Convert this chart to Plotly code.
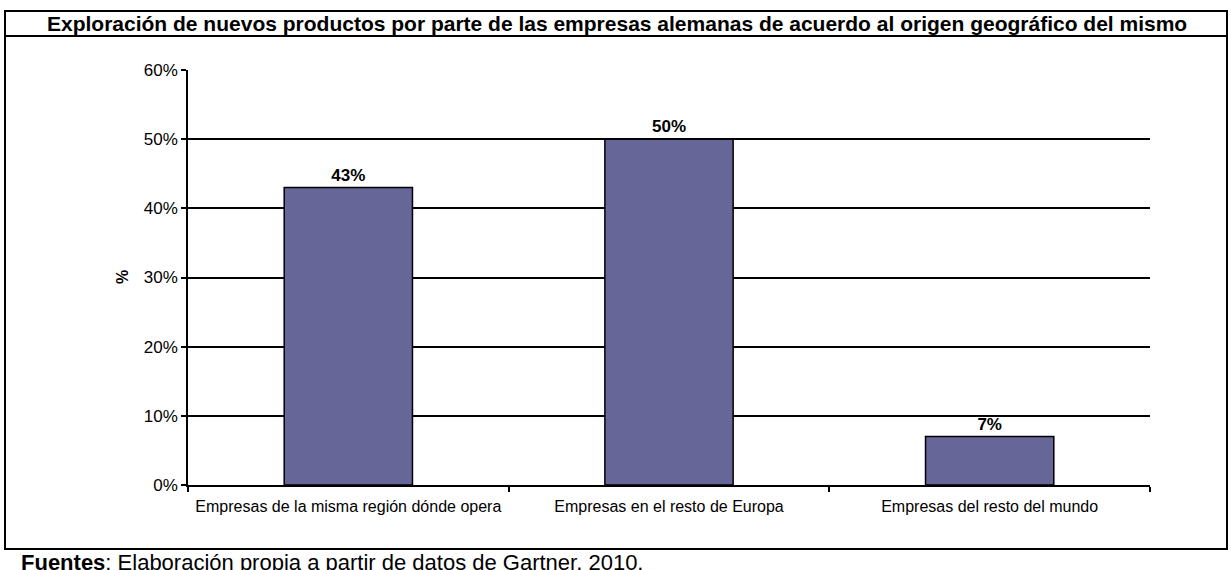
import plotly.graph_objects as go

categories = ["Empresas de la misma región dónde opera",
              "Empresas en el resto de Europa",
              "Empresas del resto del mundo"]
values = [43, 50, 7]
y_ticks = [0, 10, 20, 30, 40, 50, 60]
y_tick_labels = ["0%", "10%", "20%", "30%", "40%", "50%", "60%"]

title_text = "Exploración de nuevos productos por parte de las empresas alemanas de acuerdo al origen geográfico del mismo"
footer_text = "<b>Fuentes</b>: Elaboración propia a partir de datos de Gartner, 2010."

FONT = "Liberation Sans, Arial, sans-serif"
W, H = 1231, 570
L, R, T, B = 188, 81, 70, 85
pw, ph = W - L - R, H - T - B

def px_x(p):
    return (p - L) / pw

def px_y(p):
    return (H - B - p) / ph

fig = go.Figure()
fig.add_trace(go.Bar(
    x=categories, y=values,
    text=[f"{v}%" for v in values],
    marker=dict(color="#666699", line=dict(color="#000000", width=1.5)),
    texttemplate="<b>%{text}</b>", textposition="outside",
    textfont=dict(family=FONT, size=17, color="#000000"),
    cliponaxis=False, showlegend=False,
))

fig.update_layout(
    width=W, height=H,
    margin=dict(l=L, r=R, t=T, b=B),
    paper_bgcolor="white", plot_bgcolor="white",
    bargap=0.6,
    font=dict(family=FONT, color="#000000"),
    xaxis=dict(
        type="category", tickson="boundaries", ticks="outside", ticklen=5,
        tickcolor="black", tickwidth=1.5, ticklabelstandoff=6,
        showline=True, linecolor="black", linewidth=1.5,
        showgrid=False, tickfont=dict(size=16, family=FONT),
    ),
    yaxis=dict(
        range=[0, 60], tickmode="array", tickvals=y_ticks, ticktext=y_tick_labels,
        ticks="outside", ticklen=5, tickcolor="black", tickwidth=1.5,
        showline=True, linecolor="black", linewidth=1.5,
        showgrid=True, gridcolor="black", gridwidth=1.5,
        zeroline=False, tickfont=dict(size=17, family=FONT),
    ),
)

line = dict(color="black", width=2)
xl, xr = px_x(5), px_x(1227)
yt, ys, yb = px_y(11), px_y(36), px_y(549)
fig.add_shape(type="rect", xref="paper", yref="paper", x0=xl, x1=xr, y0=yb, y1=yt, line=line)
fig.add_shape(type="line", xref="paper", yref="paper", x0=xl, x1=xr, y0=ys, y1=ys, line=line)

fig.add_annotation(text=f"<b>{title_text}</b>", xref="paper", yref="paper",
                   x=px_x(617), y=px_y(23.5), xanchor="center", yanchor="middle",
                   showarrow=False, font=dict(family=FONT, size=21, color="black"))
fig.add_annotation(text="<b>%</b>", xref="paper", yref="paper", textangle=-90,
                   x=px_x(122), y=px_y(277), xanchor="center", yanchor="middle",
                   showarrow=False, font=dict(family=FONT, size=16, color="black"))
fig.add_annotation(text=footer_text, xref="paper", yref="paper",
                   x=px_x(19), y=px_y(562), xanchor="left", yanchor="middle",
                   showarrow=False, font=dict(family=FONT, size=22, color="black"))

fig.write_html("out.html", config={"displayModeBar": False},
               post_script="document.body.style.margin='0';document.body.style.padding='0';")
